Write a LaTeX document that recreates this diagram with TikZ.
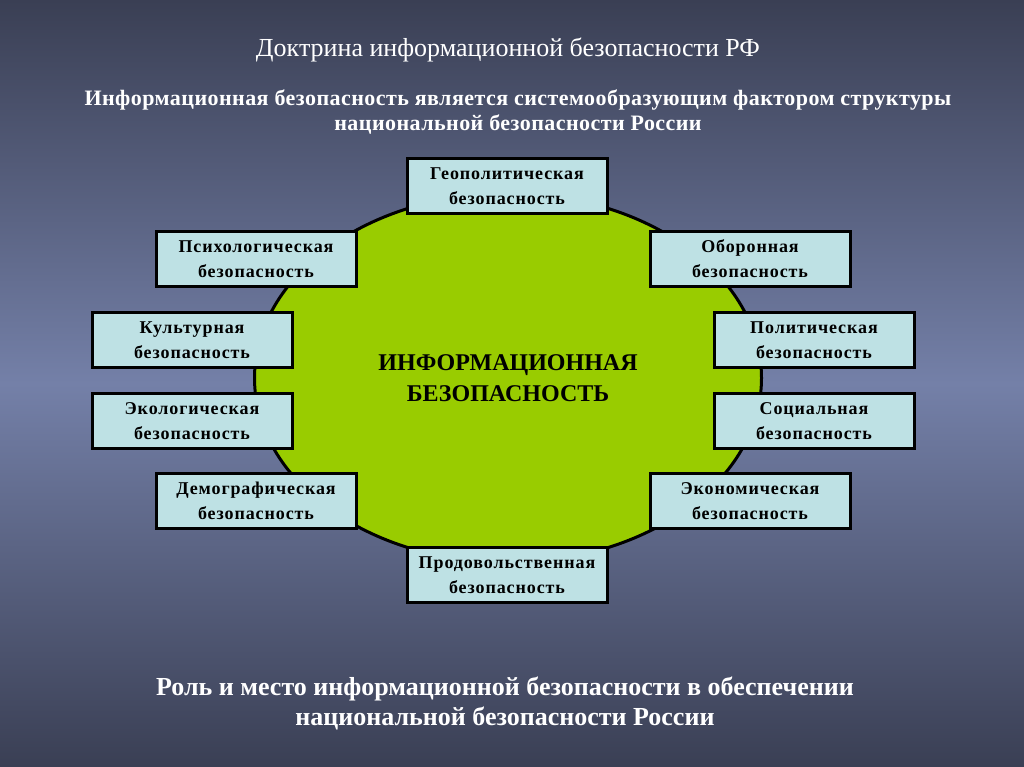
\documentclass[tikz,border=0pt]{standalone}
\usepackage{fontspec}
\setmainfont{Liberation Serif}
\newfontfamily\widefont[LetterSpace=2]{Liberation Serif}
\newfontfamily\boxfont[LetterSpace=5]{Liberation Serif}
\usetikzlibrary{shapes.geometric}
\definecolor{bgdark}{RGB}{58,63,84}
\definecolor{bgmid}{RGB}{116,128,168}
\definecolor{boxfill}{RGB}{190,225,228}
\definecolor{corefill}{RGB}{153,204,0}

\begin{document}
\begin{tikzpicture}[x=1pt, y=-1pt,
    secbox/.style={draw=black, line width=3pt, fill=boxfill, align=center,
        minimum width=200pt, minimum height=55pt, inner sep=2pt,
        font=\boxfont\bfseries\fontsize{18}{25}\selectfont},
    core/.style={ellipse, draw=black, line width=3pt, fill=corefill, align=center,
        minimum width=507pt, minimum height=369pt,
        font=\bfseries\fontsize{24}{31}\selectfont},
    heading/.style={text=white, align=center, font=\fontsize{26}{30}\selectfont},
    subheading/.style={text=white, align=center, font=\widefont\bfseries\fontsize{22}{25}\selectfont}]
    \useasboundingbox (0,0) rectangle (1024,767);
    \shade [top color=bgdark, bottom color=bgdark, middle color=bgmid] (0,0) rectangle (1024,767);% Background
    \node [core] (core) at (508,378) {ИНФОРМАЦИОННАЯ\\БЕЗОПАСНОСТЬ};
    % Ring of boxes round the core
    \node [secbox] (geo)   at (507,186) {Геополитическая\\безопасность};
    \node [secbox] (psy)   at (256,259) {Психологическая\\безопасность};
    \node [secbox] (def)   at (750,259) {Оборонная\\безопасность};
    \node [secbox] (cult)  at (192,340) {Культурная\\безопасность};
    \node [secbox] (pol)   at (814,340) {Политическая\\безопасность};
    \node [secbox] (eco)   at (192,421) {Экологическая\\безопасность};
    \node [secbox] (soc)   at (814,421) {Социальная\\безопасность};
    \node [secbox] (dem)   at (256,501) {Демографическая\\безопасность};
    \node [secbox] (econ)  at (750,501) {Экономическая\\безопасность};
    \node [secbox] (food)  at (507,575) {Продовольственная\\безопасность};
    % Texts
    \node [heading] (title) at (508,50) {Доктрина информационной безопасности РФ};
    \node [subheading] (thesis) at (518,112) {Информационная безопасность является системообразующим фактором структуры\\национальной безопасности России};
    \node [subheading, font=\bfseries\fontsize{26}{30}\selectfont] (role) at (505,703) {Роль и место информационной безопасности в обеспечении\\национальной безопасности России};
\end{tikzpicture}
\end{document}
